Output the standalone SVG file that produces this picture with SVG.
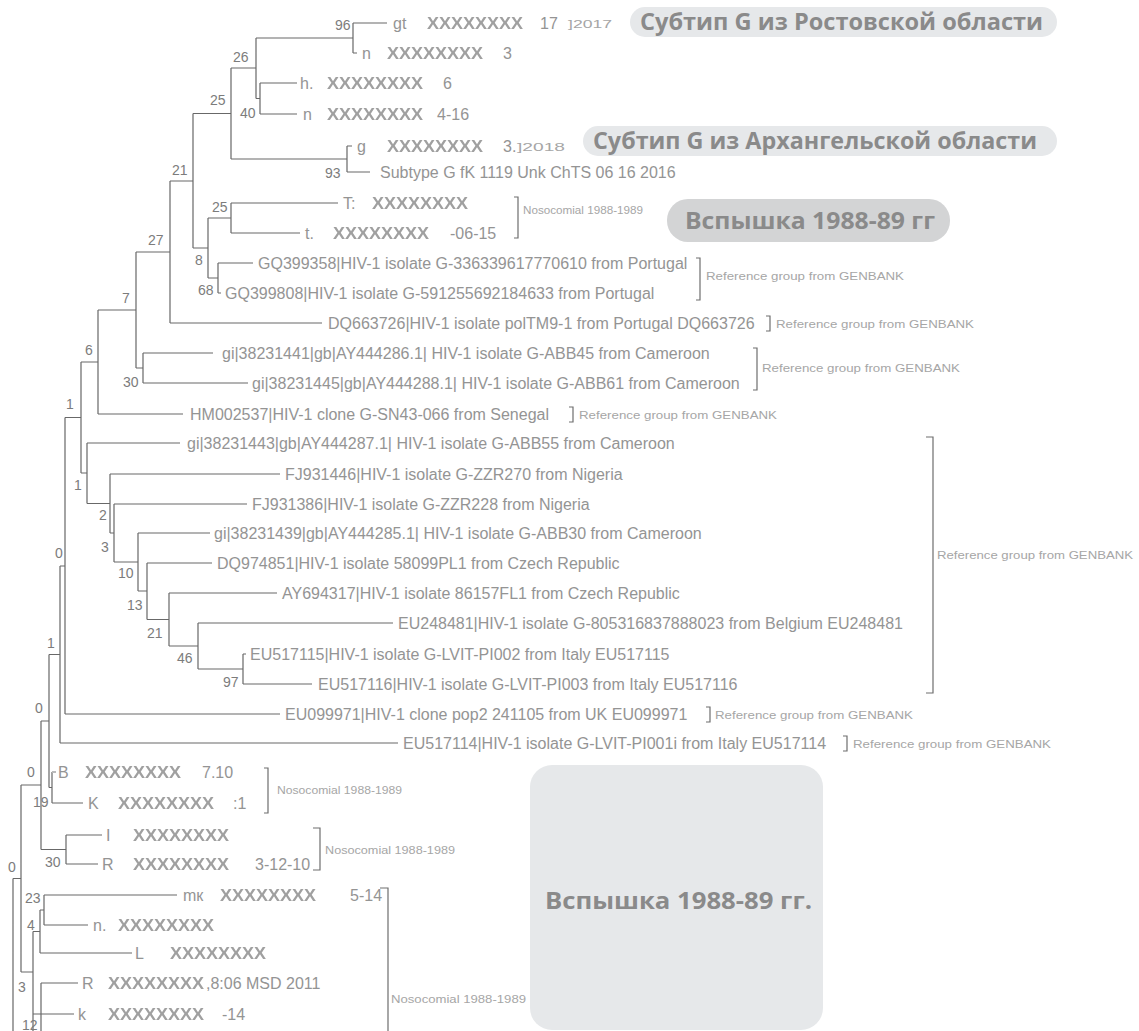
<svg xmlns="http://www.w3.org/2000/svg" width="1139" height="1031" viewBox="0 0 1139 1031">
<defs>
<filter id="blur" x="-5%" y="-30%" width="110%" height="160%"><feGaussianBlur stdDeviation="0.6"/></filter>
</defs>
<style>
.br{fill:none;stroke:#686868;stroke-width:1.2}
.lb{font-family:"Liberation Sans",Arial,sans-serif;font-size:16px;fill:#949494}
.x{font-family:"Liberation Sans",Arial,sans-serif;font-size:16px;font-weight:bold;fill:#a0a0a0;filter:url(#blur)}
.bs{font-family:"Liberation Sans",Arial,sans-serif;font-size:14px;fill:#7c7c7c}
.sm{font-family:"Liberation Sans",Arial,sans-serif;font-size:11px;fill:#a6a6a6}
.bk{fill:none;stroke:#6e6e6e;stroke-width:1.2}
.pill{fill:#e6e8ea}
.pill2{fill:#d3d4d5}
.pt{font-family:"Open Sans","DejaVu Sans",sans-serif;font-weight:bold;font-size:23px;fill:#8a8a8a}
</style>
<rect width="1139" height="1031" fill="#ffffff"/>

<g id="connectors">
<path class="br" d="M353 23H387M353 23V53M353 53H357M256 38H353M260 83V114M260 83H297M260 114H297M256 98.5H260M256 38V98.5M231 68H256M347 146V172M347 146H352M347 172H370M231 159H347M231 68V159M193 113.5H231M231 203V233M231 203H338M231 233H300M208 218H231M218 263V293M218 263H253M218 293H221M208 278H218M208 218V278M193 248H208M193 113.5V248M170 181H193M170 181V323M170 323H322M136 252H170M143 353V383M143 353H213M143 383H248M136 368H143M136 252V368M98 310H136M98 310V414M98 414H183M81 362H98"/>
<path class="br" d="M243 654V684M243 654H246M243 684H312M198 623V669M198 623H393M198 669H243M169 593V646M169 593H277M169 646H198M147 563V619.5M147 563H212M147 619.5H169M138 533V591M138 533H210M138 591H147M114 504V562M114 504H247M114 562H138M110 474V533M110 474H280M110 533H114M87 443V503.5M87 443H180M87 503.5H110M81 362V473M81 473H87"/>
<path class="br" d="M65 417.5V714M65 417.5H81M65 714H280M60 566V743M60 566H65M60 743H398M49 654.5V787.5M49 654.5H60M52 772V803M49 787.5H52M52 803H83M66 835V864M66 835H102M66 864H98M41 721V849.5M41 721H49M41 849.5H66M21 785V972M21 785H41M13 878.5V1031M13 878.5H21M44 895V925M44 895H177M44 925H88M40 910V953M40 910H44M40 953H132M33 931.5V1031M33 931.5H40M21 972H33M41 983V1031M41 983H78M33 1014H74"/>
<path d="M52 772H56" stroke="#bbbbbb" stroke-width="2" fill="none"/>
</g>

<g id="bootstrap">
<text class="bs" x="335" y="30">96</text>
<text class="bs" x="233" y="62">26</text>
<text class="bs" x="210" y="105">25</text>
<text class="bs" x="240" y="118">40</text>
<text class="bs" x="325" y="178">93</text>
<text class="bs" x="172" y="175">21</text>
<text class="bs" x="212" y="212">25</text>
<text class="bs" x="148" y="245">27</text>
<text class="bs" x="195" y="265">8</text>
<text class="bs" x="198" y="295">68</text>
<text class="bs" x="122" y="303">7</text>
<text class="bs" x="85" y="355">6</text>
<text class="bs" x="123" y="387">30</text>
<text class="bs" x="66" y="409">1</text>
<text class="bs" x="74" y="490">1</text>
<text class="bs" x="99" y="520">2</text>
<text class="bs" x="101" y="552">3</text>
<text class="bs" x="55" y="558">0</text>
<text class="bs" x="118" y="578">10</text>
<text class="bs" x="127" y="610">13</text>
<text class="bs" x="147" y="638">21</text>
<text class="bs" x="47" y="648">1</text>
<text class="bs" x="177" y="663">46</text>
<text class="bs" x="223" y="687">97</text>
<text class="bs" x="35" y="713">0</text>
<text class="bs" x="27" y="777">0</text>
<text class="bs" x="33" y="807">19</text>
<text class="bs" x="45" y="867">30</text>
<text class="bs" x="8" y="872">0</text>
<text class="bs" x="25" y="903">23</text>
<text class="bs" x="27" y="930">4</text>
<text class="bs" x="18" y="992">3</text>
<text class="bs" x="22" y="1030">12</text>
</g>

<g id="leaf-r1"><text class="lb" x="393" y="28.5">gt</text><text class="x" x="427" y="29" textLength="96" lengthAdjust="spacingAndGlyphs">XXXXXXXX</text><text class="lb" x="540" y="28.5">17</text><text class="sm" x="568" y="28" font-size="13" textLength="44" lengthAdjust="spacingAndGlyphs">]2017</text></g>
<g id="leaf-r2"><text class="lb" x="362" y="58.5">n</text><text class="x" x="387" y="59" textLength="96" lengthAdjust="spacingAndGlyphs">XXXXXXXX</text><text class="lb" x="503" y="58.5">3</text></g>
<g id="leaf-r3"><text class="lb" x="300" y="88.5">h.</text><text class="x" x="327" y="89" textLength="96" lengthAdjust="spacingAndGlyphs">XXXXXXXX</text><text class="lb" x="443" y="88.5">6</text></g>
<g id="leaf-r4"><text class="lb" x="303" y="119.5">n</text><text class="x" x="327" y="120" textLength="96" lengthAdjust="spacingAndGlyphs">XXXXXXXX</text><text class="lb" x="437" y="119.5">4-16</text></g>
<g id="leaf-r5"><text class="lb" x="357" y="151.5">g</text><text class="x" x="387" y="152" textLength="96" lengthAdjust="spacingAndGlyphs">XXXXXXXX</text><text class="lb" x="503" y="151.5">3.</text><text class="sm" x="517" y="151" font-size="13" textLength="48" lengthAdjust="spacingAndGlyphs">]2018</text></g>
<g id="leaf-r6"><text class="lb" x="380" y="177.5">Subtype G fK 1119 Unk ChTS 06 16 2016</text></g>
<g id="leaf-r7"><text class="lb" x="343" y="208.5">T:</text><text class="x" x="372" y="209" textLength="96" lengthAdjust="spacingAndGlyphs">XXXXXXXX</text></g>
<g id="leaf-r8"><text class="lb" x="305" y="238.5">t.</text><text class="x" x="333" y="239" textLength="96" lengthAdjust="spacingAndGlyphs">XXXXXXXX</text><text class="lb" x="450" y="238.5">-06-15</text></g>
<g id="leaf-r9"><text class="lb" x="258" y="268.5">GQ399358|HIV-1 isolate G-336339617770610 from Portugal</text></g>
<g id="leaf-r10"><text class="lb" x="225" y="298.5">GQ399808|HIV-1 isolate G-591255692184633 from Portugal</text></g>
<g id="leaf-r11"><text class="lb" x="328" y="328.5">DQ663726|HIV-1 isolate polTM9-1 from Portugal DQ663726</text></g>
<g id="leaf-r12"><text class="lb" x="222" y="358.5">gi|38231441|gb|AY444286.1| HIV-1 isolate G-ABB45 from Cameroon</text></g>
<g id="leaf-r13"><text class="lb" x="252" y="388.5">gi|38231445|gb|AY444288.1| HIV-1 isolate G-ABB61 from Cameroon</text></g>
<g id="leaf-r14"><text class="lb" x="190" y="419.5">HM002537|HIV-1 clone G-SN43-066 from Senegal</text></g>
<g id="leaf-r15"><text class="lb" x="187" y="448.5">gi|38231443|gb|AY444287.1| HIV-1 isolate G-ABB55 from Cameroon</text></g>
<g id="leaf-r16"><text class="lb" x="285" y="479.5">FJ931446|HIV-1 isolate G-ZZR270 from Nigeria</text></g>
<g id="leaf-r17"><text class="lb" x="252" y="509.5">FJ931386|HIV-1 isolate G-ZZR228 from Nigeria</text></g>
<g id="leaf-r18"><text class="lb" x="214" y="538.5">gi|38231439|gb|AY444285.1| HIV-1 isolate G-ABB30 from Cameroon</text></g>
<g id="leaf-r19"><text class="lb" x="217" y="568.5">DQ974851|HIV-1 isolate 58099PL1 from Czech Republic</text></g>
<g id="leaf-r20"><text class="lb" x="282" y="598.5">AY694317|HIV-1 isolate 86157FL1 from Czech Republic</text></g>
<g id="leaf-r21"><text class="lb" x="398" y="628.5">EU248481|HIV-1 isolate G-805316837888023 from Belgium EU248481</text></g>
<g id="leaf-r22"><text class="lb" x="250" y="659.5">EU517115|HIV-1 isolate G-LVIT-PI002 from Italy EU517115</text></g>
<g id="leaf-r23"><text class="lb" x="318" y="689.5">EU517116|HIV-1 isolate G-LVIT-PI003 from Italy EU517116</text></g>
<g id="leaf-r24"><text class="lb" x="285" y="719.5">EU099971|HIV-1 clone pop2 241105 from UK EU099971</text></g>
<g id="leaf-r25"><text class="lb" x="403" y="748.5">EU517114|HIV-1 isolate G-LVIT-PI001i from Italy EU517114</text></g>
<g id="leaf-r26"><text class="lb" x="58" y="777.5">B</text><text class="x" x="85" y="778" textLength="96" lengthAdjust="spacingAndGlyphs">XXXXXXXX</text><text class="lb" x="202" y="777.5">7.10</text></g>
<g id="leaf-r27"><text class="lb" x="88" y="808.5">K</text><text class="x" x="118" y="809" textLength="96" lengthAdjust="spacingAndGlyphs">XXXXXXXX</text><text class="lb" x="233" y="808.5">:1</text></g>
<g id="leaf-r28"><text class="lb" x="106" y="840.5">I</text><text class="x" x="133" y="841" textLength="96" lengthAdjust="spacingAndGlyphs">XXXXXXXX</text></g>
<g id="leaf-r29"><text class="lb" x="102" y="869.5">R</text><text class="x" x="133" y="870" textLength="96" lengthAdjust="spacingAndGlyphs">XXXXXXXX</text><text class="lb" x="255" y="869.5">3-12-10</text></g>
<g id="leaf-r30"><text class="lb" x="183" y="900.5">mк</text><text class="x" x="220" y="901" textLength="96" lengthAdjust="spacingAndGlyphs">XXXXXXXX</text><text class="lb" x="350" y="900.5">5-14</text></g>
<g id="leaf-r31"><text class="lb" x="93" y="930.5">n.</text><text class="x" x="118" y="931" textLength="96" lengthAdjust="spacingAndGlyphs">XXXXXXXX</text></g>
<g id="leaf-r32"><text class="lb" x="135" y="958.5">L</text><text class="x" x="170" y="959" textLength="96" lengthAdjust="spacingAndGlyphs">XXXXXXXX</text></g>
<g id="leaf-r33"><text class="lb" x="82" y="988.5">R</text><text class="x" x="108" y="989" textLength="96" lengthAdjust="spacingAndGlyphs">XXXXXXXX</text><text class="lb" x="206" y="988.5">,8:06 MSD 2011</text></g>
<g id="leaf-r34"><text class="lb" x="78" y="1019.5">k</text><text class="x" x="108" y="1020" textLength="96" lengthAdjust="spacingAndGlyphs">XXXXXXXX</text><text class="lb" x="222" y="1019.5">-14</text></g>

<g id="group-brackets">
<path class="bk" d="M514 197H518V238H514"/>
<text class="sm" x="523" y="214" textLength="120" lengthAdjust="spacingAndGlyphs">Nosocomial 1988-1989</text>
<path class="bk" d="M696 258H700V300H696"/>
<text class="sm" x="706" y="280" textLength="198" lengthAdjust="spacingAndGlyphs">Reference group from GENBANK</text>
<path class="bk" d="M766 316H770V331H766"/>
<text class="sm" x="776" y="328" textLength="198" lengthAdjust="spacingAndGlyphs">Reference group from GENBANK</text>
<path class="bk" d="M753 348H757V390H753"/>
<text class="sm" x="762" y="372" textLength="198" lengthAdjust="spacingAndGlyphs">Reference group from GENBANK</text>
<path class="bk" d="M569 407H573V422H569"/>
<text class="sm" x="579" y="419" textLength="198" lengthAdjust="spacingAndGlyphs">Reference group from GENBANK</text>
<path class="bk" d="M926 437H933V693H926"/>
<text class="sm" x="937" y="559" textLength="196" lengthAdjust="spacingAndGlyphs">Reference group from GENBANK</text>
<path class="bk" d="M706 707H710V722H706"/>
<text class="sm" x="715" y="719" textLength="198" lengthAdjust="spacingAndGlyphs">Reference group from GENBANK</text>
<path class="bk" d="M843 736H847V751H843"/>
<text class="sm" x="853" y="748" textLength="198" lengthAdjust="spacingAndGlyphs">Reference group from GENBANK</text>
<path class="bk" d="M264 768H268V813H264"/>
<text class="sm" x="277" y="794" textLength="125" lengthAdjust="spacingAndGlyphs">Nosocomial 1988-1989</text>
<path class="bk" d="M313 828H320V870H313"/>
<text class="sm" x="325" y="854" textLength="130" lengthAdjust="spacingAndGlyphs">Nosocomial 1988-1989</text>
<path class="bk" d="M380 888H388V1031"/>
<text class="sm" x="391" y="1003" textLength="135" lengthAdjust="spacingAndGlyphs">Nosocomial 1988-1989</text>
</g>

<g id="label-rostov">
<rect class="pill" x="630" y="7" width="427" height="30" rx="15"/>
<text class="pt" x="640" y="30" textLength="403" lengthAdjust="spacingAndGlyphs">Субтип G из Ростовской области</text>
</g>
<g id="label-arkhangelsk">
<rect class="pill" x="583" y="126" width="474" height="30" rx="15"/>
<text class="pt" x="593" y="149" textLength="444" lengthAdjust="spacingAndGlyphs">Субтип G из Архангельской области</text>
</g>
<g id="label-outbreak-top">
<rect class="pill2" x="667" y="199" width="283" height="43" rx="21"/>
<text class="pt" x="685" y="229" textLength="250" lengthAdjust="spacingAndGlyphs">Вспышка 1988-89 гг</text>
</g>
<g id="label-outbreak-bottom">
<rect class="pill" x="530" y="765" width="293" height="265" rx="22"/>
<text class="pt" x="545" y="909" textLength="267" lengthAdjust="spacingAndGlyphs">Вспышка 1988-89 гг.</text>
</g>
</svg>
